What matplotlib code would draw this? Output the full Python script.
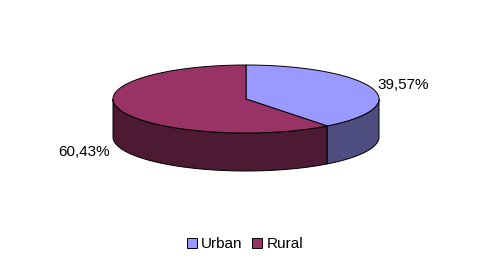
import numpy as np
import matplotlib
matplotlib.use("Agg")
import matplotlib.pyplot as plt
from matplotlib.patches import Polygon, Patch

categories = ["Urban", "Rural"]
values = [39.57, 60.43]
top_colors = ["#9999FF", "#993366"]
side_colors = ["#4D4D80", "#4D1A33"]

plt.rcParams['font.family'] = ['Liberation Sans', 'DejaVu Sans']

W, H = 492, 267
fig = plt.figure(figsize=(W / 100, H / 100), dpi=100)
ax = fig.add_axes([0, 0, 1, 1])
ax.set_xlim(0, W)
ax.set_ylim(H, 0)
ax.axis('off')

cx, cy, a, b, depth = 246, 99, 133, 34, 38


def pt(phi_deg, dy=0.0):
    p = np.radians(phi_deg)
    return cx + a * np.cos(p), cy - b * np.sin(p) + dy


total = sum(values)
# slices go clockwise from 12 o'clock
bounds = [90.0]
for v in values:
    bounds.append(bounds[-1] - 360.0 * v / total)
slices = [(bounds[i + 1], bounds[i]) for i in range(len(values))]  # (start, end) ccw

# side walls (front half: phi in [180, 360])
for (s, e), col in zip(slices, side_colors):
    s2, e2 = s % 360, e % 360
    if e2 <= s2:
        e2 += 360
    lo, hi = max(s2, 180), min(e2, 360)
    if hi > lo:
        ph = np.linspace(lo, hi, 120)
        topx, topy = pt(ph)
        botx, boty = pt(ph[::-1], depth)
        poly = np.column_stack([np.concatenate([topx, botx]), np.concatenate([topy, boty])])
        ax.add_patch(Polygon(poly, closed=True, facecolor=col, edgecolor='black', lw=0.7))

# top faces
for (s, e), col in zip(slices, top_colors):
    ph = np.linspace(s, e, 200)
    x, y = pt(ph)
    poly = np.column_stack([np.concatenate([[cx], x]), np.concatenate([[cy], y])])
    ax.add_patch(Polygon(poly, closed=True, facecolor=col, edgecolor='black', lw=0.7, joinstyle='miter'))

labels = [f"{v:.2f}".replace('.', ',') + '%' for v in values]
ax.text(377, 85, labels[0], ha='left', va='center', fontsize=11, color='black')
ax.text(110, 152, labels[1], ha='right', va='center', fontsize=11, color='black')

handles = [Patch(facecolor=c, edgecolor='black', lw=0.7) for c in top_colors]
fig.legend(handles, categories, loc='center', bbox_to_anchor=(245 / W, 1 - 244 / H), ncol=2,
           frameon=False, fontsize=11, handlelength=0.65, handleheight=0.65,
           handletextpad=0.3, columnspacing=0.6)

fig.savefig("out.png", dpi=100)
